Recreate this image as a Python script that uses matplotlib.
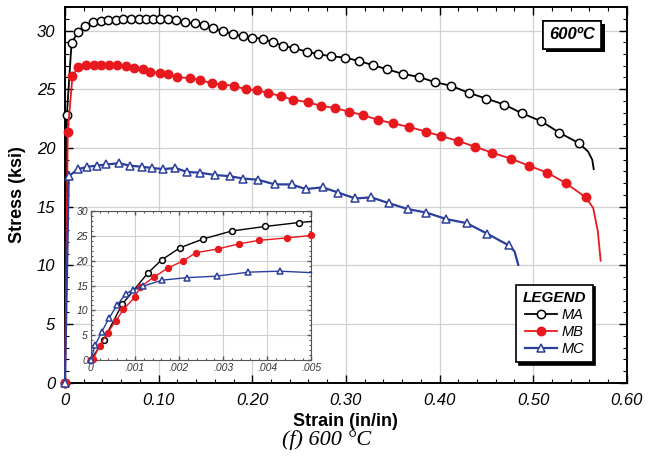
import matplotlib
matplotlib.use('Agg')
import matplotlib.pyplot as plt
import matplotlib.patheffects as pe
from matplotlib.ticker import MultipleLocator
import numpy as np

plt.rcParams['font.family'] = ['Liberation Sans', 'DejaVu Sans']

# ---- main curves (strain in/in, stress ksi); last points of each are the unmarked tail
ma_strain = [0, 0.002, 0.007, 0.014, 0.021, 0.030, 0.038, 0.046, 0.054, 0.062, 0.070, 0.079,
             0.087, 0.094, 0.101, 0.110, 0.119, 0.128, 0.139, 0.148, 0.158, 0.169, 0.179, 0.190,
             0.200, 0.211, 0.222, 0.233, 0.245, 0.258, 0.270, 0.284, 0.299, 0.314, 0.329, 0.344,
             0.361, 0.378, 0.395, 0.412, 0.431, 0.450, 0.469, 0.488, 0.508, 0.528, 0.549,
             0.5585, 0.563, 0.5646]
ma_stress = [0, 22.8, 28.9, 29.9, 30.4, 30.7, 30.8, 30.9, 30.9, 30.95, 30.95, 31.0,
             30.95, 30.95, 30.95, 31.0, 30.9, 30.7, 30.6, 30.5, 30.2, 29.95, 29.7, 29.5,
             29.4, 29.3, 29.0, 28.7, 28.5, 28.2, 28.0, 27.8, 27.7, 27.4, 27.05, 26.7,
             26.3, 26.05, 25.6, 25.3, 24.7, 24.2, 23.7, 22.95, 22.3, 21.3, 20.4,
             19.7, 19.0, 18.2]
ma_tail = 3

mb_strain = [0, 0.003, 0.008, 0.014, 0.022, 0.031, 0.039, 0.047, 0.056, 0.065, 0.074, 0.083,
             0.091, 0.101, 0.110, 0.120, 0.133, 0.144, 0.157, 0.168, 0.180, 0.193, 0.205, 0.217,
             0.231, 0.244, 0.259, 0.273, 0.288, 0.303, 0.318, 0.334, 0.350, 0.367, 0.385, 0.402,
             0.420, 0.438, 0.456, 0.476, 0.495, 0.515, 0.535, 0.556,
             0.564, 0.569, 0.572]
mb_stress = [0, 21.4, 26.1, 26.9, 27.05, 27.1, 27.1, 27.05, 27.05, 26.97, 26.8, 26.7,
             26.5, 26.4, 26.3, 26.0, 25.97, 25.8, 25.5, 25.4, 25.3, 25.0, 24.9, 24.7,
             24.4, 24.1, 23.9, 23.6, 23.4, 23.1, 22.8, 22.4, 22.1, 21.8, 21.4, 21.0,
             20.6, 20.1, 19.6, 19.1, 18.5, 17.9, 17.0, 15.8,
             14.9, 12.9, 10.4]
mb_tail = 3

mc_strain = [0, 0.004, 0.014, 0.024, 0.034, 0.044, 0.058, 0.069, 0.082, 0.093, 0.105, 0.118,
             0.130, 0.144, 0.160, 0.176, 0.190, 0.206, 0.224, 0.242, 0.257, 0.275, 0.292, 0.310,
             0.327, 0.346, 0.366, 0.386, 0.407, 0.429, 0.451, 0.474,
             0.480, 0.484]
mc_stress = [0, 17.6, 18.2, 18.4, 18.5, 18.6, 18.7, 18.5, 18.4, 18.3, 18.2, 18.3,
             17.96, 17.9, 17.7, 17.6, 17.4, 17.3, 16.9, 16.9, 16.5, 16.65, 16.2, 15.7,
             15.8, 15.3, 14.8, 14.5, 13.95, 13.6, 12.7, 11.7,
             11.2, 10.05]
mc_tail = 2

# ---- inset (initial elastic region)
ma_in_strain = [0, 0.00029, 0.00071, 0.00129, 0.00161, 0.00202, 0.00255, 0.0032, 0.00395, 0.00472, 0.005]
ma_in_stress = [0, 4.0, 11.2, 17.5, 20.2, 22.6, 24.4, 26.0, 26.9, 27.7, 27.9]
ma_in_tail = 1
mb_in_strain = [0, 0.00006, 0.0002, 0.00038, 0.00057, 0.00074, 0.001, 0.00112, 0.00143, 0.00174,
                0.0021, 0.00238, 0.00289, 0.00336, 0.0038, 0.00445, 0.005]
mb_in_stress = [0, 0.3, 2.9, 5.5, 7.9, 10.2, 12.7, 14.7, 16.7, 18.5,
                20.0, 21.6, 22.4, 23.4, 24.1, 24.6, 25.1]
mb_in_tail = 0
mc_in_strain = [0, 0.0001, 0.00025, 0.00041, 0.0006, 0.0008, 0.00096, 0.00119, 0.00162, 0.00219,
                0.00285, 0.00357, 0.00428, 0.005]
mc_in_stress = [0, 3.0, 5.7, 8.4, 11.1, 13.4, 14.1, 14.9, 16.1, 16.6,
                16.9, 17.7, 17.9, 17.6]
mc_in_tail = 1

labels = ['MA', 'MB', 'MC']
colors = ['black', '#e8191e', '#2a3e9e']
markers = ['o', 'o', '^']
faces = ['white', '#e8191e', 'white']
widths = [1.3, 1.3, 1.6]

x_ticks = [0, 0.1, 0.2, 0.3, 0.4, 0.5, 0.6]
x_tick_labels = ['0', '0.10', '0.20', '0.30', '0.40', '0.50', '0.60']
y_ticks = [0, 5, 10, 15, 20, 25, 30]
in_x_ticks = [0, 0.001, 0.002, 0.003, 0.004, 0.005]
in_x_tick_labels = ['0', '.001', '.002', '.003', '.004', '.005']


def draw(ax, x, y, tail, color, marker, face, ms, lw, label=None):
    n = len(x) - tail
    ax.plot(x, y, color=color, linewidth=lw, marker=marker, markerfacecolor=face,
            markeredgecolor=color, markersize=ms, markeredgewidth=1.1,
            markevery=list(range(n)), label=label, clip_on=False, zorder=3)


def style_ticks(ax, size, major_len, minor_len):
    ax.tick_params(which='both', direction='in', top=True, right=True)
    ax.tick_params(which='major', length=major_len, width=1.0, labelsize=size)
    ax.tick_params(which='minor', length=minor_len, width=0.8)
    for t in ax.get_xticklabels() + ax.get_yticklabels():
        t.set_fontstyle('italic')


fig = plt.figure(figsize=(6.53, 4.67), dpi=100, facecolor='white')
ax = fig.add_axes([0.0995, 0.180, 0.8605, 0.805])

series = [(ma_strain, ma_stress, ma_tail), (mb_strain, mb_stress, mb_tail), (mc_strain, mc_stress, mc_tail)]
for (x, y, tail), lab, c, m, f, w in zip(series, labels, colors, markers, faces, widths):
    draw(ax, x, y, tail, c, m, f, 6, w, label=lab)

ax.set_xlim(0, 0.6)
ax.set_ylim(0, 32)
ax.set_xticks(x_ticks)
ax.set_xticklabels(x_tick_labels)
ax.set_yticks(y_ticks)
ax.xaxis.set_minor_locator(MultipleLocator(0.02))
ax.yaxis.set_minor_locator(MultipleLocator(1))
ax.grid(True, which='major', color='#d0d0d0', linewidth=0.9)
ax.set_axisbelow(True)
for s in ax.spines.values():
    s.set_linewidth(1.4)
style_ticks(ax, 12, 6, 3)
ax.tick_params(axis='both', which='major', pad=7)
ax.set_xlabel('Strain (in/in)', fontsize=13, fontweight='bold', labelpad=4)
ax.set_ylabel('Stress (ksi)', fontsize=13, fontweight='bold', labelpad=8)

# temperature tag
t = ax.text(0.902, 0.926, '600ºC', transform=ax.transAxes, ha='center', va='center',
            fontsize=12, fontweight='bold', fontstyle='italic', zorder=6,
            bbox=dict(boxstyle='square,pad=0.38', facecolor='white', edgecolor='black', linewidth=1.2))
t.get_bbox_patch().set_path_effects([pe.withSimplePatchShadow(offset=(2.5, -2.5), shadow_rgbFace='black', alpha=1.0), pe.Normal()])

leg = ax.legend(loc='lower right', bbox_to_anchor=(0.952, 0.035), title='LEGEND',
                title_fontproperties={'weight': 'bold', 'style': 'italic', 'size': 11},
                prop={'style': 'italic', 'size': 10.5}, fancybox=False, framealpha=1,
                edgecolor='black', shadow={'color': 'black', 'alpha': 1.0},
                handlelength=2.2, handletextpad=0.3, labelspacing=0.2, borderpad=0.45)
leg.get_frame().set_linewidth(1.2)
leg.set_zorder(7)

# inset
axi = fig.add_axes([0.139, 0.229, 0.338, 0.319])
axi.set_facecolor('white')
inset = [(ma_in_strain, ma_in_stress, ma_in_tail), (mb_in_strain, mb_in_stress, mb_in_tail),
         (mc_in_strain, mc_in_stress, mc_in_tail)]
for (x, y, tail), c, m, f in zip(inset, colors, markers, faces):
    draw(axi, x, y, tail, c, m, f, 4.2, 1.0)
axi.set_xlim(0, 0.005)
axi.set_ylim(0, 30)
axi.set_xticks(in_x_ticks)
axi.set_xticklabels(in_x_tick_labels)
axi.set_yticks(y_ticks)
axi.xaxis.set_minor_locator(MultipleLocator(0.0002))
axi.yaxis.set_minor_locator(MultipleLocator(1))
axi.grid(True, which='major', color='#d0d0d0', linewidth=0.8)
axi.set_axisbelow(True)
for s in axi.spines.values():
    s.set_linewidth(0.8)
    s.set_color('#555555')
style_ticks(axi, 7.5, 3, 1.5)
axi.tick_params(which='both', colors='#555555', labelcolor='#333333', pad=2)

fig.text(0.5, 0.057, '(f) 600 °C', ha='center', va='center', fontsize=16,
         fontstyle='italic', family=['Liberation Serif', 'DejaVu Serif'])

fig.savefig('out.png', dpi=100)
